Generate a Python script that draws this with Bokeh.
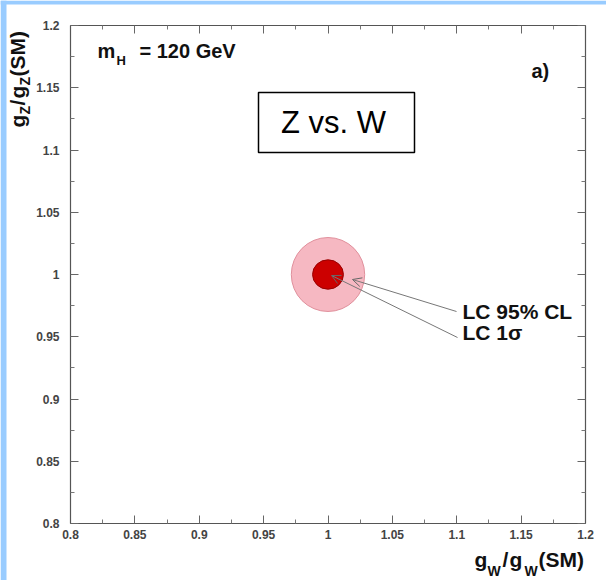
import math
from bokeh.plotting import figure
from bokeh.models import (Range1d, FixedTicker, LinearAxis, CustomJSTickFormatter,
                          Label, Arrow, OpenHead, BoxAnnotation)
from bokeh.embed import file_html
from bokeh.resources import INLINE

# ---------------- data ----------------
x_lim = [0.8, 1.2]
y_lim = [0.8, 1.2]
major_ticks = [0.8, 0.85, 0.9, 0.95, 1.0, 1.05, 1.1, 1.15, 1.2]
minor_ticks = [0.825, 0.875, 0.925, 0.975, 1.025, 1.075, 1.125, 1.175]

center_x = [1.0]
center_y = [1.0]
cl95_rx = [0.0285]   # half-width of LC 95% CL contour
cl95_ry = [0.0297]
sig1_rx = [0.0120]   # half-width of LC 1 sigma contour
sig1_ry = [0.0118]

labels_text = ["LC 95% CL", "LC 1\u03c3"]

# ---------------- geometry ----------------
W, H = 606, 580
BOX_L, BOX_R, BOX_T, BOX_B = 70, 585, 25, 523   # inner plot box in pixels
sx = (x_lim[1] - x_lim[0]) / (BOX_R - BOX_L)
sy = (y_lim[1] - y_lim[0]) / (BOX_B - BOX_T)

x_range = Range1d(x_lim[0] - BOX_L * sx, x_lim[1] + (W - BOX_R) * sx)
y_range = Range1d(y_lim[0] - (H - BOX_B) * sy, y_lim[1] + BOX_T * sy)


def px(x_pix):
    return x_lim[0] + (x_pix - BOX_L) * sx


def py(y_pix):
    return y_lim[1] - (y_pix - BOX_T) * sy


p = figure(width=W, height=H, output_backend="svg", toolbar_location=None,
           x_range=x_range, y_range=y_range, min_border=0,
           min_border_left=0, min_border_right=0, min_border_top=0,
           min_border_bottom=0, background_fill_color="white",
           border_fill_color="white")
p.xgrid.visible = False
p.ygrid.visible = False
p.outline_line_color = None

# light-blue slide frame (left and top strips)
p.add_layout(BoxAnnotation(left=px(0), right=px(6), top=py(0), bottom=py(H),
                           fill_color="#99CCFF", fill_alpha=1.0, line_color=None))
p.add_layout(BoxAnnotation(left=px(0), right=px(W), top=py(0), bottom=py(4),
                           fill_color="#99CCFF", fill_alpha=1.0, line_color=None))

fmt = CustomJSTickFormatter(code="return String(Math.round(tick*100)/100);")
empty_fmt = CustomJSTickFormatter(code="return '';")


def style_axis(ax, fixed, show_labels):
    ax.fixed_location = fixed
    ax.bounds = (x_lim[0], x_lim[1])
    ax.ticker = FixedTicker(ticks=major_ticks, minor_ticks=minor_ticks)
    ax.major_tick_in = 8
    ax.major_tick_out = 0
    ax.minor_tick_in = 4
    ax.minor_tick_out = 0
    ax.major_tick_line_color = "#666666"
    ax.minor_tick_line_color = "#777777"
    ax.axis_line_color = "#555555"
    ax.axis_line_width = 1.2
    if show_labels:
        ax.formatter = fmt
        ax.major_label_text_font = "Liberation Sans"
        ax.major_label_text_font_style = "bold"
        ax.major_label_text_font_size = "12px"
        ax.major_label_text_color = "#444444"
    else:
        ax.formatter = empty_fmt


for ax in p.xaxis:
    style_axis(ax, y_lim[0], True)
    ax.major_label_standoff = 6
for ax in p.yaxis:
    style_axis(ax, x_lim[0], True)
    ax.major_label_standoff = 11

top_ax = LinearAxis()
right_ax = LinearAxis()
style_axis(top_ax, y_lim[1], False)
style_axis(right_ax, x_lim[1], False)
p.add_layout(top_ax, "above")
p.add_layout(right_ax, "right")

# ---------------- contours ----------------
p.ellipse(x=center_x, y=center_y, width=[2 * r for r in cl95_rx],
          height=[2 * r for r in cl95_ry], fill_color="#F6B8C2",
          line_color="#E0909C", line_width=1)
p.ellipse(x=center_x, y=center_y, width=[2 * r for r in sig1_rx],
          height=[2 * r for r in sig1_ry], fill_color="#CC0000",
          line_color="#990000", line_width=1)

# ---------------- arrows + labels ----------------
arrow_starts = [(px(456), py(311)), (px(457), py(337))]
arrow_ends = [(px(352), py(279)), (px(331), py(275))]
for (xs, ys), (xe, ye) in zip(arrow_starts, arrow_ends):
    p.add_layout(Arrow(end=OpenHead(size=9, line_color="#666666", line_width=1),
                       x_start=xs, y_start=ys, x_end=xe, y_end=ye,
                       line_color="#777777", line_width=1))

bold = dict(text_font="Liberation Sans", text_font_style="bold",
            text_color="#111111", text_baseline="middle", text_align="left")


def mid(baseline, size):
    # vertical centre of a text line given its baseline (pixels)
    return baseline - 0.35 * size


p.add_layout(Label(x=px(462), y=py(mid(318, 21)), text=labels_text[0], text_font_size="21px", **bold))
p.add_layout(Label(x=px(462), y=py(mid(339, 21)), text=labels_text[1], text_font_size="21px", **bold))

# m_H = 120 GeV
p.add_layout(Label(x=px(97), y=py(mid(57, 20)), text="m", text_font_size="20px", **bold))
p.add_layout(Label(x=px(116), y=py(mid(65, 13)), text="H", text_font_size="13px", **bold))
p.add_layout(Label(x=px(139), y=py(mid(57, 20)), text="= 120 GeV", text_font_size="20px", **bold))

# a)
p.add_layout(Label(x=px(531), y=py(mid(77, 20)), text="a)", text_font_size="20px", **bold))

# Z vs. W box
p.add_layout(BoxAnnotation(left=px(258), right=px(414), top=py(92), bottom=py(152),
                           fill_color="white", fill_alpha=1.0,
                           line_color="black", line_alpha=1.0, line_width=1.5))
p.add_layout(Label(x=px(333), y=py(mid(133, 31)), text="Z vs. W", text_font="Liberation Sans",
                   text_font_size="31px", text_color="black",
                   text_baseline="middle", text_align="center"))

# x axis title g_W/g_W(SM)
xt = [("g", 474, 566, 21), ("W", 487, 575, 14), ("/", 502, 566, 21), ("g", 509, 566, 21),
      ("W", 524, 575, 14), ("(SM)", 538, 566, 21)]
for t, xx, yy, fs in xt:
    p.add_layout(Label(x=px(xx), y=py(mid(yy, fs)), text=t,
                       text_font_size=f"{fs}px", **bold))

# y axis title g_Z/g_Z(SM) (rotated, reads upward; baseline is on the right)
yt = [("g", 24, 127, 21), ("Z", 29, 114, 14), ("/", 24, 105, 21), ("g", 24, 98, 21),
      ("Z", 29, 85, 14), ("(SM)", 24, 76, 21)]
for t, xx, yy, fs in yt:
    p.add_layout(Label(x=px(xx - 0.35 * fs), y=py(yy), text=t,
                       text_font_size=f"{fs}px", angle=math.pi / 2, **bold))

open("out.html", "w").write(file_html(p, INLINE))
